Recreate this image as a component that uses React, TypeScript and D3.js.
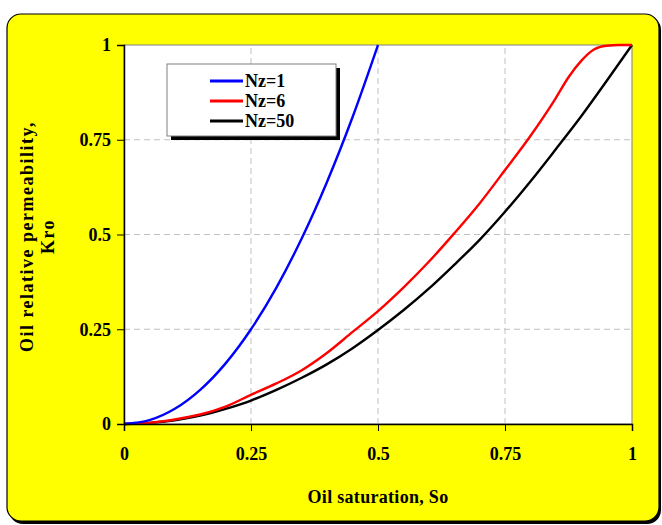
import React, { useEffect, useRef } from 'react';
import * as d3 from 'd3';

// values
const satNz1 = [0, 0.05, 0.1, 0.15, 0.2, 0.25, 0.3, 0.35, 0.4, 0.45, 0.5];
const kroNz1 = [0, 0.01, 0.04, 0.09, 0.16, 0.25, 0.36, 0.49, 0.64, 0.81, 1.0];

const satNz6 = [0, 0.05, 0.1, 0.15, 0.2, 0.25, 0.3, 0.35, 0.4, 0.45, 0.5, 0.55, 0.6, 0.65, 0.7, 0.75, 0.8, 0.85, 0.875, 0.9, 0.925, 0.95, 0.975, 1];
const kroNz6 = [0, 0.003, 0.012, 0.025, 0.046, 0.077, 0.107, 0.142, 0.188, 0.243, 0.298, 0.36, 0.428, 0.503, 0.582, 0.67, 0.76, 0.86, 0.915, 0.958, 0.988, 0.998, 1, 1];

const satNz50 = [0, 0.05, 0.1, 0.15, 0.2, 0.25, 0.3, 0.35, 0.4, 0.45, 0.5, 0.55, 0.6, 0.65, 0.7, 0.75, 0.8, 0.85, 0.9, 0.95, 1];
const kroNz50 = [0, 0.003, 0.01, 0.022, 0.04, 0.062, 0.09, 0.122, 0.158, 0.2, 0.248, 0.3, 0.357, 0.42, 0.486, 0.56, 0.64, 0.725, 0.812, 0.905, 1];

const seriesNames = ['Nz=1', 'Nz=6', 'Nz=50'];
const seriesColors = ['#0000ff', '#ff0000', '#000000'];
const tickValues = [0, 0.25, 0.5, 0.75, 1];

const width = 662;
const height = 525;
const margin = { left: 124, top: 45, right: 30, bottom: 101 };
const font = '"Liberation Serif", "Times New Roman", serif';

export default function App() {
  const ref = useRef<SVGSVGElement>(null);

  useEffect(() => {
    const svg = d3.select(ref.current);
    svg.selectAll('*').remove();

    const x = d3.scaleLinear().domain([0, 1]).range([margin.left, width - margin.right]);
    const y = d3.scaleLinear().domain([0, 1]).range([height - margin.bottom, margin.top]);

    // yellow card with shadow
    svg.append('rect').attr('x', 9).attr('y', 16).attr('width', 652).attr('height', 508).attr('rx', 14).attr('fill', '#000');
    svg.append('rect').attr('x', 7).attr('y', 14).attr('width', 652).attr('height', 507).attr('rx', 14)
      .attr('fill', '#ffff00').attr('stroke', '#000').attr('stroke-width', 1.2);

    // plot area
    svg.append('rect').attr('x', x(0)).attr('y', y(1)).attr('width', x(1) - x(0)).attr('height', y(0) - y(1))
      .attr('fill', '#fff').attr('stroke', '#808080').attr('stroke-width', 1);

    // grid
    const grid = svg.append('g').attr('stroke', '#c0c0c0').attr('stroke-dasharray', '6,4').attr('stroke-width', 1);
    tickValues.slice(1, 4).forEach(t => {
      grid.append('line').attr('x1', x(t)).attr('x2', x(t)).attr('y1', y(0)).attr('y2', y(1));
      grid.append('line').attr('x1', x(0)).attr('x2', x(1)).attr('y1', y(t)).attr('y2', y(t));
    });

    // curves
    const line = d3.line<[number, number]>().x(d => x(d[0])).y(d => y(d[1])).curve(d3.curveMonotoneX);
    const all = [
      d3.zip(satNz1, kroNz1),
      d3.zip(satNz6, kroNz6),
      d3.zip(satNz50, kroNz50),
    ];
    // draw black first, then red, then blue
    [2, 1, 0].forEach(i => {
      svg.append('path').attr('d', line(all[i] as [number, number][])).attr('fill', 'none')
        .attr('stroke', seriesColors[i]).attr('stroke-width', 2.4).attr('stroke-linejoin', 'round');
    });

    // axes
    const xAxis = svg.append('g').attr('transform', `translate(0,${y(0)})`)
      .call(d3.axisBottom(x).tickValues(tickValues).tickSize(7).tickPadding(16).tickFormat(d => String(d)));
    const yAxis = svg.append('g').attr('transform', `translate(${x(0)},0)`)
      .call(d3.axisLeft(y).tickValues(tickValues).tickSize(7).tickPadding(6).tickFormat(d => String(d)));
    [xAxis, yAxis].forEach(a => {
      a.select('.domain').attr('stroke', '#000').attr('stroke-width', 1.5);
      a.selectAll('.tick line').attr('stroke', '#000').attr('stroke-width', 1);
      a.selectAll('.tick text').attr('font-family', font).attr('font-size', 18).attr('font-weight', 'bold').attr('fill', '#000');
    });

    // axis titles
    svg.append('text').attr('x', x(0.5)).attr('y', 503).attr('text-anchor', 'middle')
      .attr('font-family', font).attr('font-size', 18).attr('font-weight', 'bold').attr('letter-spacing', 0.3)
      .text('Oil saturation, So');
    const yt = svg.append('text').attr('transform', `translate(33,${y(0.5) + 2}) rotate(-90)`).attr('text-anchor', 'middle')
      .attr('font-family', font).attr('font-size', 18).attr('font-weight', 'bold').attr('letter-spacing', 1.5);
    yt.append('tspan').attr('x', 0).attr('y', 0).text('Oil relative permeability,');
    yt.append('tspan').attr('x', 0).attr('y', 21).text('Kro');

    // legend
    const lg = svg.append('g');
    lg.append('rect').attr('x', 171).attr('y', 68).attr('width', 169).attr('height', 72).attr('fill', '#000');
    lg.append('rect').attr('x', 167).attr('y', 64).attr('width', 169).attr('height', 72)
      .attr('fill', '#fff').attr('stroke', '#808080').attr('stroke-width', 1);
    seriesNames.forEach((name, i) => {
      const cy = 81 + i * 20;
      lg.append('line').attr('x1', 210).attr('x2', 243).attr('y1', cy).attr('y2', cy)
        .attr('stroke', seriesColors[i]).attr('stroke-width', 3);
      lg.append('text').attr('x', 245).attr('y', cy + 6).attr('font-family', font).attr('font-size', 18)
        .attr('font-weight', 'bold').text(name);
    });
  }, []);

  return (
    <svg ref={ref} width={width} height={height}
      style={{ position: 'absolute', left: 0, top: 0, background: '#fff' }} />
  );
}
